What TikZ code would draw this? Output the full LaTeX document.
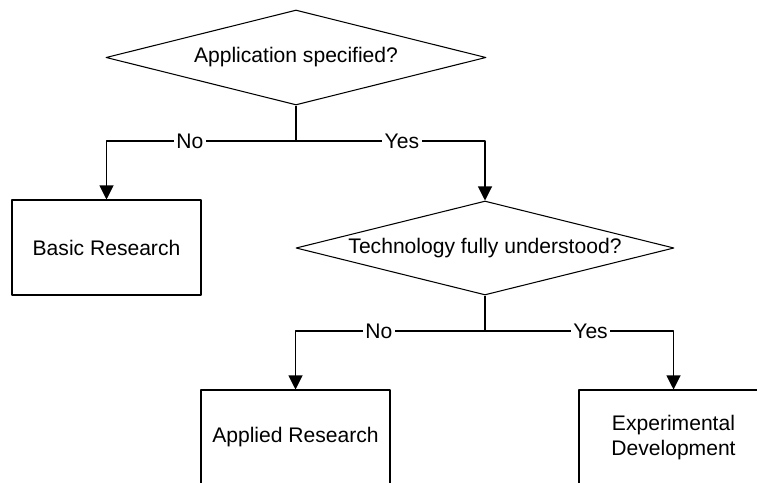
\documentclass[tikz,border=0pt]{standalone}
\usepackage{fontspec}
\setmainfont{Liberation Sans}
\usetikzlibrary{shapes.geometric,arrows.meta}
\begin{document}
\begin{tikzpicture}[x=0.02cm, y=-0.02cm, line join=round, line width=0.6pt, font=\fontsize{12}{14}\selectfont,
	decision/.style={draw, diamond, aspect=4, inner sep=0pt, minimum width=7.6cm, minimum height=1.9cm},
	block/.style={draw, rectangle, minimum width=3.78cm, minimum height=1.9cm, align=center},
	answer/.style={fill=white, inner sep=1.5pt},
	flow/.style={-{Triangle[width=0.28cm, length=0.28cm]}}]
	\clip (0,0) rectangle (757,483);
	\node[decision] (app) at (296,57.5) {Application specified?};
	\node[block] (basic) at (106.5,247.5) {Basic Research};
	\node[decision, minimum width=7.56cm, minimum height=1.88cm] (tech) at (485,248) {Technology fully understood?};
	\node[block] (applied) at (295.5,437.5) {Applied Research};
	\node[block] (exper) at (673.5,437.5) {Experimental\\Development};
	\coordinate (split1) at (296,141);
	\coordinate (split2) at (485,331);
	% first question
	\draw (app.south) -- (split1);
	\draw[flow] (split1) -| node[answer, pos=0.28] {No} (basic.north);
	\draw[flow] (split1) -| node[answer, pos=0.28] {Yes} (tech.north);
	% second question
	\draw (tech.south) -- (split2);
	\draw[flow] (split2) -| node[answer, pos=0.28] {No} (applied.north);
	\draw[flow] (split2) -| node[answer, pos=0.28] {Yes} (exper.north);
\end{tikzpicture}
\end{document}
